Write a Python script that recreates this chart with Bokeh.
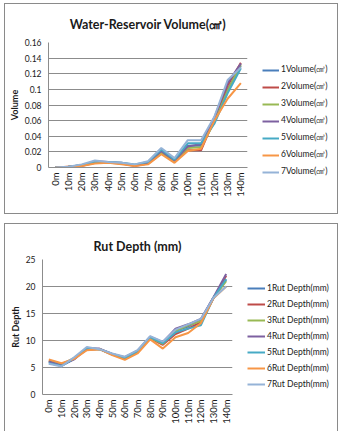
import math
from bokeh.plotting import figure
from bokeh.layouts import column, row
from bokeh.models import Legend, LegendItem, Range1d, FixedTicker, NumeralTickFormatter
from bokeh.embed import file_html
from bokeh.resources import INLINE

# Survey stations along the section
distances = ["0m", "10m", "20m", "30m", "40m", "50m", "60m", "70m",
             "80m", "90m", "100m", "110m", "120m", "130m", "140m"]

# Water-reservoir volume (cm³) for seven measurement lines
volume_1 = [0.000, 0.001, 0.003, 0.007, 0.007, 0.005, 0.003, 0.006, 0.020, 0.009, 0.028, 0.028, 0.060, 0.100, 0.130]
volume_2 = [0.000, 0.001, 0.002, 0.006, 0.006, 0.005, 0.002, 0.005, 0.018, 0.008, 0.022, 0.022, 0.062, 0.105, 0.134]
volume_3 = [0.000, 0.001, 0.003, 0.006, 0.007, 0.005, 0.003, 0.006, 0.019, 0.008, 0.025, 0.026, 0.058, 0.098, 0.132]
volume_4 = [0.000, 0.001, 0.003, 0.008, 0.007, 0.006, 0.003, 0.006, 0.021, 0.009, 0.027, 0.030, 0.064, 0.108, 0.133]
volume_5 = [0.000, 0.001, 0.003, 0.007, 0.007, 0.006, 0.004, 0.007, 0.023, 0.010, 0.031, 0.031, 0.056, 0.095, 0.127]
volume_6 = [0.000, 0.001, 0.002, 0.005, 0.006, 0.004, 0.002, 0.004, 0.017, 0.006, 0.021, 0.024, 0.060, 0.088, 0.108]
volume_7 = [0.000, 0.001, 0.004, 0.009, 0.007, 0.006, 0.004, 0.008, 0.025, 0.012, 0.035, 0.035, 0.065, 0.112, 0.128]

# Rut depth (mm) for the same seven lines
rut_1 = [6.0, 5.3, 6.6, 8.6, 8.4, 7.5, 6.8, 8.0, 10.6, 9.6, 11.8, 12.6, 13.8, 18.0, 21.2]
rut_2 = [6.3, 5.6, 6.7, 8.3, 8.4, 7.4, 6.6, 7.8, 10.4, 9.2, 11.2, 12.2, 13.4, 17.8, 22.0]
rut_3 = [6.2, 5.5, 6.8, 8.4, 8.4, 7.5, 6.8, 8.0, 10.5, 9.4, 11.8, 12.8, 13.6, 17.9, 21.0]
rut_4 = [6.1, 5.4, 6.5, 8.5, 8.5, 7.5, 6.9, 8.1, 10.7, 9.7, 12.2, 13.0, 14.0, 18.0, 22.3]
rut_5 = [5.8, 5.3, 6.7, 8.6, 8.4, 7.4, 6.8, 8.0, 10.6, 9.5, 11.5, 12.2, 12.8, 17.9, 21.4]
rut_6 = [6.5, 5.8, 6.6, 8.2, 8.4, 7.3, 6.4, 7.6, 10.2, 8.5, 10.6, 11.4, 13.2, 17.8, 20.0]
rut_7 = [5.7, 5.2, 6.9, 8.8, 8.4, 7.6, 7.0, 8.2, 10.8, 9.8, 12.0, 13.0, 14.0, 17.9, 20.0]

volume_series = [volume_1, volume_2, volume_3, volume_4, volume_5, volume_6, volume_7]
volume_names = ["%dVolume(㎤)" % (i + 1) for i in range(7)]
rut_series = [rut_1, rut_2, rut_3, rut_4, rut_5, rut_6, rut_7]
rut_names = ["%dRut Depth(mm)" % (i + 1) for i in range(7)]

volume_ticks = [0, 0.02, 0.04, 0.06, 0.08, 0.10, 0.12, 0.14, 0.16]
rut_ticks = [0, 5, 10, 15, 20, 25]

colors = ["#4A7EBB", "#BE4B48", "#98B954", "#7D60A0", "#46AAC5", "#F79646", "#95B3D7"]
FONT = "Lato"
GRID = "#8c8c8c"
TEXT = "#1a1a1a"


def make_chart(title, ylabel, series, ticks, fmt, width, height, borders, title_standoff):
    left, right, top, bottom = borders
    p = figure(x_range=distances, y_range=Range1d(ticks[0], ticks[-1]),
               width=width, height=height, output_backend="svg",
               toolbar_location=None, tools="", frame_align=False,
               min_border_left=left, min_border_right=right,
               min_border_top=top, min_border_bottom=bottom)
    p.title.text = title
    p.title.align = "center"
    p.title.text_font = FONT
    p.title.text_font_size = "12.5px"
    p.title.text_font_style = "bold"
    p.title.text_color = TEXT
    p.title.standoff = title_standoff
    p.outline_line_color = None

    for ys, c in zip(series, colors):
        p.line(distances, ys, line_color=c, line_width=2)

    p.xgrid.grid_line_color = None
    p.ygrid.grid_line_color = GRID
    p.ygrid.grid_line_width = 1

    p.yaxis.ticker = FixedTicker(ticks=ticks)
    p.yaxis.formatter = fmt
    p.yaxis.axis_line_color = GRID
    p.yaxis.major_tick_line_color = None
    p.yaxis.minor_tick_line_color = None
    p.yaxis.major_tick_out = 0
    p.yaxis.major_label_standoff = 7
    p.yaxis.major_label_text_font = FONT
    p.yaxis.major_label_text_font_size = "8.5px"
    p.yaxis.major_label_text_color = TEXT
    p.yaxis.axis_label = ylabel
    p.yaxis.axis_label_text_font = FONT
    p.yaxis.axis_label_text_font_size = "9px"
    p.yaxis.axis_label_text_font_style = "bold"
    p.yaxis.axis_label_text_color = TEXT
    p.yaxis.axis_label_standoff = 2

    p.xaxis.axis_line_color = GRID
    p.xaxis.major_tick_line_color = None
    p.xaxis.minor_tick_line_color = None
    p.xaxis.major_tick_out = 0
    p.xaxis.major_label_orientation = math.pi / 2
    p.xaxis.major_label_standoff = 5
    p.xaxis.major_label_text_font = FONT
    p.xaxis.major_label_text_font_size = "9.5px"
    p.xaxis.major_label_text_color = TEXT
    return p


def make_key(names, width, height, left, top, gap, key_w):
    # Side strip holding the series key
    k = figure(width=width, height=height, output_backend="svg",
               toolbar_location=None, tools="", frame_align=False,
               x_range=Range1d(0, 1), y_range=Range1d(0, 1),
               x_axis_type=None, y_axis_type=None,
               min_border_left=left, min_border_top=top,
               min_border_right=0, min_border_bottom=0)
    k.grid.visible = False
    k.outline_line_color = None
    items = []
    for n, c in zip(names, colors):
        # off-range stub: only its key swatch is shown
        r = k.line(x=[-2, -1], y=[-2, -1], line_color=c, line_width=2)
        items.append(LegendItem(label=n, renderers=[r]))
    legend = Legend(items=items, location="top_left", orientation="vertical",
                    glyph_width=key_w, glyph_height=10, label_height=10,
                    spacing=gap, padding=0, margin=0, label_standoff=2,
                    label_text_font=FONT, label_text_font_size="8.5px",
                    label_text_color=TEXT, background_fill_alpha=0,
                    border_line_color=None)
    k.add_layout(legend, "center")
    return k


top_chart = make_chart("Water-Reservoir Volume(㎤)", "Volume", volume_series,
                       volume_ticks, NumeralTickFormatter(format="0.[00]"),
                       244, 209, (43, 2, 38, 46), 21)
top_key = make_key(volume_names, 88, 209, 13, 60, 5, 17)
top_panel = row(top_chart, top_key, spacing=0)
top_panel.margin = (3, 0, 0, 4)
top_panel.styles = {"border": "1px solid #8a8a8a"}

bottom_chart = make_chart("Rut Depth (mm)", "Rut Depth", rut_series,
                          rut_ticks, NumeralTickFormatter(format="0"),
                          229, 207, (37, 2, 35, 37), 11)
bottom_key = make_key(rut_names, 103, 207, 13, 59, 6, 18)
bottom_panel = row(bottom_chart, bottom_key, spacing=0)
bottom_panel.margin = (9, 0, 0, 4)
bottom_panel.styles = {"border": "1px solid #8a8a8a", "border-bottom": "none"}

layout = column(top_panel, bottom_panel, spacing=0)
open("out.html", "w").write(file_html(layout, INLINE))
